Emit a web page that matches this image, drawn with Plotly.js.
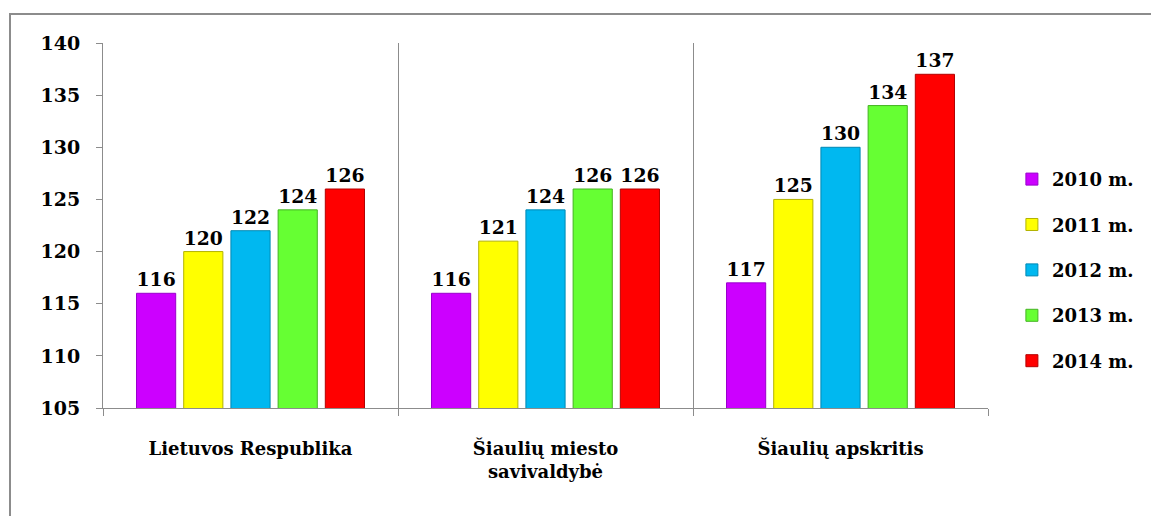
<!DOCTYPE html>
<html>
<head>
<meta charset="utf-8">
<script src="https://cdn.plot.ly/plotly-3.0.1.min.js"></script>
<style>
html,body{margin:0;padding:0;background:#fff;}
#wrap{position:relative;width:1151px;height:516px;overflow:hidden;}
#chart{width:1151px;height:516px;}
#frame{position:absolute;left:9px;top:13px;width:1200px;height:600px;border:2px solid #8c8c8c;pointer-events:none;}
</style>
</head>
<body>
<div id="wrap"><div id="chart"></div><div id="frame"></div></div>
<script>
const categories = ["Lietuvos Respublika", "Šiaulių miesto<br>savivaldybė", "Šiaulių apskritis"];
const seriesNames = ["2010 m.", "2011 m.", "2012 m.", "2013 m.", "2014 m."];
const v2010 = [116, 116, 117];
const v2011 = [120, 121, 125];
const v2012 = [122, 124, 130];
const v2013 = [124, 126, 134];
const v2014 = [126, 126, 137];
const seriesValues = [v2010, v2011, v2012, v2013, v2014];
const colors = ["#cc00ff", "#ffff00", "#00b8f0", "#66ff33", "#ff0000"];
const lineColors = ["#9900cc", "#b3b300", "#0088b3", "#44b322", "#b30000"];
const yTicks = [105, 110, 115, 120, 125, 130, 135, 140];

const font = "DejaVu Serif, serif";

const traces = seriesNames.map((name, i) => ({
  type: "bar",
  name: name,
  x: categories,
  y: seriesValues[i],
  base: 0,
  text: seriesValues[i].map(String),
  textposition: "outside",
  textfont: {family: font, size: 19, color: "#000", weight: 700},
  cliponaxis: false,
  marker: {color: colors[i], line: {color: lineColors[i], width: 1}},
  legendgroup: "g" + i
}));

const layout = {
  width: 1151, height: 516,
  margin: {l: 103, r: 160, t: 43, b: 108},
  paper_bgcolor: "#fff", plot_bgcolor: "#fff",
  font: {family: font, color: "#000", weight: 700},
  barmode: "group",
  bargap: 0.2,
  bargroupgap: 0.17,
  showlegend: true,
  legend: {
    x: 1.027, xanchor: "left", y: 0.677, yanchor: "top",
    font: {family: font, size: 18, color: "#000", weight: 700},
    tracegroupgap: 19,
    itemwidth: 30
  },
  xaxis: {
    type: "category",
    showline: true, linecolor: "#8c8c8c", linewidth: 1,
    ticks: "outside", ticklen: 7, tickcolor: "#8c8c8c",
    tickson: "boundaries",
    showgrid: true, gridcolor: "#8c8c8c", gridwidth: 1,
    tickfont: {family: font, size: 18, color: "#000", weight: 700},
    ticklabelstandoff: 24,
    fixedrange: true
  },
  yaxis: {
    range: [105, 140],
    tickvals: yTicks,
    showline: true, linecolor: "#8c8c8c", linewidth: 1,
    ticks: "outside", ticklen: 6, tickcolor: "#8c8c8c",
    showgrid: false, zeroline: false,
    tickfont: {family: font, size: 19, color: "#000", weight: 700},
    ticklabelstandoff: 12,
    fixedrange: true
  }
};

Plotly.newPlot("chart", traces, layout, {displayModeBar: false, staticPlot: true});
</script>
</body>
</html>
